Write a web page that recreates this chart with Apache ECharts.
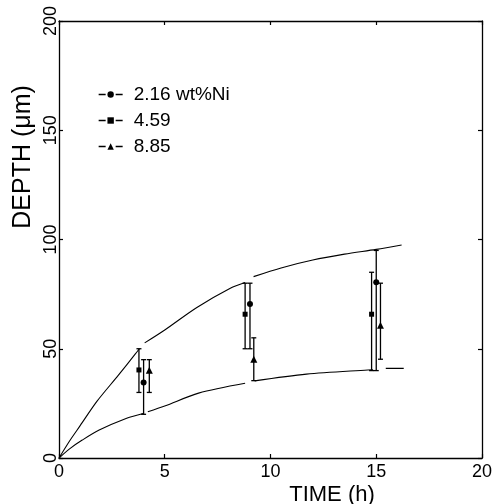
<!DOCTYPE html>
<html>
<head>
<meta charset="utf-8">
<script src="https://cdn.jsdelivr.net/npm/echarts@6/dist/echarts.min.js"></script>
<style>html,body{margin:0;padding:0;background:#fff}#c{width:495px;height:504px}</style>
</head>
<body>
<div id="c"></div>
<script>
// ---- data ----
const xTicks = [0, 5, 10, 15, 20];
const yTicks = [0, 50, 100, 150, 200];
const seriesNames = ['2.16 wt%Ni', '4.59', '8.85'];
// 2.16 wt%Ni (circles)
const niLowT = [4.0, 9.03, 15.0];
const niLowY = [34.5, 70.5, 80.4];
const niLowErrLo = [20, 50, 40];
const niLowErrHi = [45, 80, 95];
// 4.59 (squares)
const niMidT = [3.78, 8.8, 14.78];
const niMidY = [40.3, 65.8, 65.8];
const niMidErrLo = [30, 50, 40];
const niMidErrHi = [50, 80, 85];
// 8.85 (triangles)
const niHighT = [4.27, 9.21, 15.2];
const niHighY = [40.2, 45.2, 60.7];
const niHighErrLo = [30, 35.4, 45.2];
const niHighErrHi = [45, 55, 80];
// fitted curves (upper / lower); null marks a break in the drawn curve
const upperCurve = [[0,0],[0.5,7.8],[1,14.8],[1.8,26],[2.8,37.8],[3.6,47.5],[3.8,50],[3.9,null],[4.05,52.7],[5,58.6],[6.5,68.8],[8.1,77.7],[8.8,80.3],[9.0,null],[9.2,83],[10.5,87],[12,90.6],[13.5,93.3],[15,95.5],[16.2,97.5]];
const lowerCurve = [[0,0],[0.5,4.2],[1.1,8.2],[1.9,12.8],[3.2,18.2],[3.98,20.4],[4.05,null],[4.2,21.2],[5,23.8],[6.6,29.7],[8.8,34.2],[9.0,null],[9.25,35.3],[11.7,38.4],[14.6,40.3],[14.85,40.4],[15.1,null],[15.45,41],[16.3,41]];

const FONT = '"Liberation Sans", Arial, Helvetica, sans-serif';
const zip2 = (a, b) => a.map((v, i) => [v, b[i]]);
const zip3 = (a, b, c) => a.map((v, i) => [v, b[i], c[i]]);

function errBar(params, api) {
  const x = api.value(0), lo = api.value(1), hi = api.value(2);
  const p1 = api.coord([x, hi]), p2 = api.coord([x, lo]);
  const w = 2.5;
  const st = { stroke: '#000', lineWidth: 1.3 };
  return { type: 'group', children: [
    { type: 'line', shape: { x1: p1[0], y1: p1[1], x2: p2[0], y2: p2[1] }, style: st },
    { type: 'line', shape: { x1: p1[0] - w, y1: p1[1], x2: p1[0] + w, y2: p1[1] }, style: st },
    { type: 'line', shape: { x1: p2[0] - w, y1: p2[1], x2: p2[0] + w, y2: p2[1] }, style: st }
  ]};
}

const axisLine = { show: true, onZero: false, lineStyle: { color: '#000', width: 1.3 } };
const axisTick = { show: true, inside: true, length: 4, lineStyle: { color: '#000', width: 1.2 } };

const chart = echarts.init(document.getElementById('c'), null, { renderer: 'canvas' });
chart.setOption({
  animation: false,
  backgroundColor: '#fff',
  grid: { left: 59, right: 7, top: 21, bottom: 46 },
  xAxis: [
    { type: 'value', min: xTicks[0], max: xTicks[xTicks.length-1], interval: 5, position: 'bottom',
      axisLine, axisTick, splitLine: { show: false },
      axisLabel: { color: '#000', fontSize: 18, fontFamily: FONT, margin: 5 } },
    { type: 'value', min: xTicks[0], max: xTicks[xTicks.length-1], interval: 5, position: 'top',
      axisLine, axisTick, splitLine: { show: false }, axisLabel: { show: false } }
  ],
  yAxis: [
    { type: 'value', min: yTicks[0], max: yTicks[yTicks.length-1], interval: 50, position: 'left',
      axisLine, axisTick, splitLine: { show: false },
      axisLabel: { color: '#000', fontSize: 18, fontFamily: FONT, rotate: 90, margin: -1 } },
    { type: 'value', min: yTicks[0], max: yTicks[yTicks.length-1], interval: 50, position: 'right',
      axisLine, axisTick, splitLine: { show: false }, axisLabel: { show: false } }
  ],
  legend: {
    data: seriesNames,
    orient: 'vertical',
    left: 93, top: 80,
    itemWidth: 24, itemHeight: 8, itemGap: 7,
    lineStyle: { color: '#000', width: 1.3, opacity: 1, type: [7, 10] },
    textStyle: { color: '#000', fontSize: 19, fontFamily: FONT, padding: [0, 0, 0, 6] }
  },
  graphic: [
    { type: 'text', x: 23, y: 157, rotation: Math.PI / 2,
      style: { text: 'DEPTH (μm)', fontSize: 25, fontFamily: FONT, fill: '#000', textAlign: 'center', textVerticalAlign: 'middle' } },
    { type: 'text', x: 332, y: 495,
      style: { text: 'TIME (h)', fontSize: 22, fontFamily: FONT, fill: '#000', textAlign: 'center', textVerticalAlign: 'middle' } }
  ],
  series: [
    { name: 'upper', type: 'line', smooth: 0.3, connectNulls: false, showSymbol: false, data: upperCurve,
      lineStyle: { color: '#000', width: 1.1 }, silent: true },
    { name: 'lower', type: 'line', smooth: 0.3, connectNulls: false, showSymbol: false, data: lowerCurve,
      lineStyle: { color: '#000', width: 1.1 }, silent: true },
    { name: 'err1', type: 'custom', renderItem: errBar, data: zip3(niLowT, niLowErrLo, niLowErrHi), encode: { x: 0, y: [1, 2] }, z: 3 },
    { name: 'err2', type: 'custom', renderItem: errBar, data: zip3(niMidT, niMidErrLo, niMidErrHi), encode: { x: 0, y: [1, 2] }, z: 3 },
    { name: 'err3', type: 'custom', renderItem: errBar, data: zip3(niHighT, niHighErrLo, niHighErrHi), encode: { x: 0, y: [1, 2] }, z: 3 },
    { name: seriesNames[0], type: 'line', data: zip2(niLowT, niLowY), symbol: 'circle', symbolSize: 6,
      itemStyle: { color: '#000' }, lineStyle: { opacity: 0, width: 0 }, z: 5 },
    { name: seriesNames[1], type: 'line', data: zip2(niMidT, niMidY), symbol: 'rect', symbolSize: 5,
      itemStyle: { color: '#000' }, lineStyle: { opacity: 0, width: 0 }, z: 5 },
    { name: seriesNames[2], type: 'line', data: zip2(niHighT, niHighY), symbol: 'triangle', symbolSize: 7,
      itemStyle: { color: '#000' }, lineStyle: { opacity: 0, width: 0 }, z: 5 }
  ]
});
</script>
</body>
</html>
